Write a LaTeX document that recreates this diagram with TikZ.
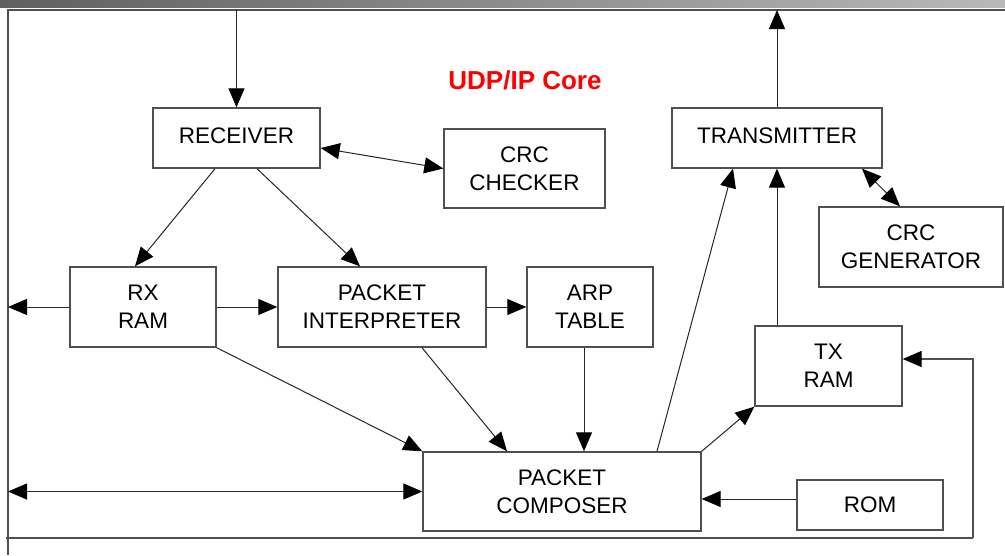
\documentclass[tikz,border=0pt]{standalone}
\usepackage{fontspec}
\setmainfont{Liberation Sans}
\usetikzlibrary{arrows.meta,calc}
\definecolor{boxgray}{RGB}{80,80,80}
\definecolor{barL}{RGB}{95,95,95}
\definecolor{barR}{RGB}{185,185,185}
\tikzset{
  blk/.style={draw=boxgray, line width=1.4pt, fill=white, inner sep=0pt, align=center,
    font=\fontsize{22.5}{28}\selectfont, text=black},
  tip/.tip={Triangle[length=19pt,width=16pt,color=black]},
  arr/.style={draw=black!85, line width=1pt, -tip},
  darr/.style={draw=black!85, line width=1pt, tip-tip},
  framel/.style={draw=boxgray, line width=1.4pt}
}
\begin{document}
\begin{tikzpicture}[x=1pt,y=-1pt]
\useasboundingbox[fill=white] (0,0) rectangle (1005,555);
\shade[left color=barL, right color=barR] (0,0) rectangle (1005,7);
% frame
\draw[framel] (1005,10) -- (8,10) -- (8,555);
\coordinate (inTop) at (236.5,10);
\coordinate (outTop) at (777,10);
\coordinate (lRx) at (8,307);
\coordinate (lComp) at (8,491.5);
\coordinate (fbL) at (6,538);
\coordinate (fbR) at (973,538);
% title
\node[text=red, font=\fontsize{26}{30}\selectfont\bfseries] (title) at (525,80) {UDP/IP Core};
% blocks
\node[blk, minimum width=167pt, minimum height=60pt] (rec) at (236.5,138) {\raisebox{4pt}{RECEIVER}};
\node[blk, minimum width=161pt, minimum height=79pt] (crcc) at (524.5,168.5) {CRC\\CHECKER};
\node[blk, minimum width=146pt, minimum height=80pt] (rxram) at (143,307) {RX\\RAM};
\node[blk, minimum width=208pt, minimum height=80pt] (pint) at (382,307) {PACKET\\INTERPRETER};
\node[blk, minimum width=126pt, minimum height=80pt] (arp) at (590,307) {ARP\\TABLE};
\node[blk, minimum width=210pt, minimum height=60pt] (tx) at (777,138) {\raisebox{4pt}{TRANSMITTER}};
\node[blk, minimum width=184pt, minimum height=80pt] (crcg) at (911,247) {CRC\\GENERATOR};
\node[blk, minimum width=147pt, minimum height=80pt] (txram) at (828.5,366) {TX\\RAM};
\node[blk, minimum width=146pt, minimum height=50pt] (rom) at (870,505) {ROM};
\node[blk, minimum width=278pt, minimum height=79pt] (comp) at (562,491.5) {PACKET\\COMPOSER};
% connectors
\draw[arr] (inTop) -- (rec.north);
\draw[darr] ([yshift=-10pt]rec.east) -- (crcc.west);
\draw[arr] ([xshift=-21.5pt]rec.south) -- ([xshift=-8pt]rxram.north);
\draw[arr] ([xshift=20.5pt]rec.south) -- ([xshift=-22pt]pint.north);
\draw[arr] (rxram.west) -- (lRx);
\draw[arr] (rxram.east) -- (pint.west);
\draw[arr] (pint.east) -- (arp.west);
\draw[arr] (rxram.south east) -- (comp.north west);
\draw[arr] ([xshift=40pt]pint.south) -- ([xshift=-55pt]comp.north);
\draw[arr] ([xshift=-6pt]arp.south) -- ([xshift=-6pt]arp.south |- comp.north);
\draw[arr] ([xshift=95pt]comp.north) -- ([xshift=-44pt]tx.south);
\draw[arr] ([xshift=-51.5pt]txram.north) -- ([xshift=-51.5pt]txram.north |- tx.south);
\draw[arr] (tx.north) -- (outTop);
\draw[darr] ([xshift=85pt]tx.south) -- ([xshift=-11pt]crcg.north);
\draw[arr] (comp.north east) -- (txram.south west);
\draw[arr] ([yshift=6pt]rom.west) -- ([yshift=6pt]rom.west -| comp.east);
\draw[darr] (lComp) -- (comp.west);
\draw[framel] (fbL) -- (fbR);
\draw[arr, draw=boxgray, line width=1.4pt] (fbR) |- ([yshift=7pt]txram.east);
\end{tikzpicture}
\end{document}
